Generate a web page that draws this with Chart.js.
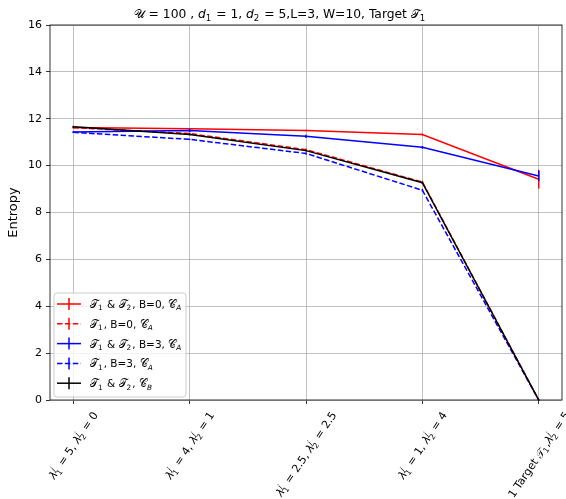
<!DOCTYPE html>
<html>
<head>
<meta charset="utf-8">
<script src="https://cdn.jsdelivr.net/npm/chart.js@4"></script>
<style>
  html, body { margin: 0; padding: 0; background: #fff; }
</style>
</head>
<body>
<canvas id="chart" width="566" height="499"></canvas>
<script>
// values
// little markup for the labels: ~..~ italic, _x subscript, {sub,sup} stacked
const categories = [
    "~λ~{1,j} = 5, ~λ~{2,j} = 0",
    "~λ~{1,j} = 4, ~λ~{2,j} = 1",
    "~λ~{1,j} = 2.5, ~λ~{2,j} = 2.5",
    "~λ~{1,j} = 1, ~λ~{2,j} = 4",
    "1 Target 𝒯_1,~λ~{2,j} = 5"
];
const legendLabels = [
    "𝒯_1 & 𝒯_2, B=0, 𝒞_A",
    "𝒯_1, B=0, 𝒞_A",
    "𝒯_1 & 𝒯_2, B=3, 𝒞_A",
    "𝒯_1, B=3, 𝒞_A",
    "𝒯_1 & 𝒯_2, 𝒞_B"
];
const titleText = "𝒰 = 100 , ~d~_1 = 1, ~d~_2 = 5,L=3, W=10, Target 𝒯_1";
const yTicks = [0, 2, 4, 6, 8, 10, 12, 14, 16];

const entBothB0 = [11.63, 11.57, 11.50, 11.33, 9.42];
const entOneB0 = [11.62, 11.37, 10.68, 9.30, 0];
const entBothB3 = [11.43, 11.50, 11.25, 10.78, 9.56];
const entOneB3 = [11.42, 11.12, 10.52, 8.95, 0];
const entBothCB = [11.66, 11.33, 10.64, 9.27, 0];

const errBothB0 = [0.03, 0.03, 0.03, 0.04, 0.40];
const errOneB0 = [0.03, 0.03, 0.05, 0.05, 0.02];
const errBothB3 = [0.03, 0.07, 0.07, 0.06, 0.22];
const errOneB3 = [0.03, 0.03, 0.04, 0.05, 0.02];
const errBothCB = [0.04, 0.04, 0.04, 0.05, 0.02];

const FONT = '"DejaVu Sans"';

// rich text helpers
function parseRich(str) {
    const chars = Array.from(str);
    const runs = [];
    let it = false;
    let buf = "";
    const flush = () => {
        if (buf) { runs.push({ kind: "n", t: buf, it }); buf = ""; }
    };
    for (let i = 0; i < chars.length; i++) {
        const c = chars[i];
        if (c === "~") { flush(); it = !it; }
        else if (c === "_") { flush(); runs.push({ kind: "sub", t: chars[++i] }); }
        else if (c === "{") {
            flush();
            const j = chars.indexOf("}", i);
            const [sub, sup] = chars.slice(i + 1, j).join("").split(",");
            runs.push({ kind: "ss", t: sub, sup });
            i = j;
        } else buf += c;
    }
    flush();
    return runs;
}

const isLetter = (s) => /[a-zA-Z]/.test(s);
const font = (size, it) => `${it ? "italic " : ""}${size}px ${FONT}`;

function runWidth(ctx, r, size) {
    if (r.kind === "n") {
        ctx.font = font(size, r.it);
        return ctx.measureText(r.t).width;
    }
    ctx.font = font(size * 0.7, isLetter(r.t));
    let w = ctx.measureText(r.t).width;
    if (r.kind === "ss") {
        ctx.font = font(size * 0.7, isLetter(r.sup));
        w = Math.max(w, ctx.measureText(r.sup).width);
    }
    return w + 1;
}

function richWidth(ctx, str, size) {
    return parseRich(str).reduce((a, r) => a + runWidth(ctx, r, size), 0);
}

function drawRich(ctx, str, x, y, size, align) {
    const runs = parseRich(str);
    const total = runs.reduce((a, r) => a + runWidth(ctx, r, size), 0);
    let cx = align === "center" ? x - total / 2 : x;
    ctx.textAlign = "left";
    ctx.textBaseline = "alphabetic";
    runs.forEach((r) => {
        const w = runWidth(ctx, r, size);
        if (r.kind === "n") {
            ctx.font = font(size, r.it);
            ctx.fillText(r.t, cx, y);
        } else {
            ctx.font = font(size * 0.7, isLetter(r.t));
            ctx.fillText(r.t, cx, y + size * 0.22);
            if (r.kind === "ss") {
                ctx.font = font(size * 0.7, isLetter(r.sup));
                ctx.fillText(r.sup, cx, y - size * 0.4);
            }
        }
        cx += w;
    });
}

const series = [
    { data: entBothB0, err: errBothB0, color: "#ff0000", dash: [] },
    { data: entOneB0, err: errOneB0, color: "#ff0000", dash: [5.5, 2.4] },
    { data: entBothB3, err: errBothB3, color: "#0000ff", dash: [] },
    { data: entOneB3, err: errOneB3, color: "#0000ff", dash: [5.5, 2.4] },
    { data: entBothCB, err: errBothCB, color: "#000000", dash: [] }
];

const extras = {
    id: "extras",
    afterDatasetDraw(chart, args) {
        const ds = chart.data.datasets[args.index];
        const xs = chart.scales.x;
        const ys = chart.scales.y;
        const ctx = chart.ctx;
        ctx.save();
        ctx.strokeStyle = ds.borderColor;
        ctx.lineWidth = 1.5;
        ctx.setLineDash([]);
        ds.errors.forEach((e, i) => {
            const px = xs.getPixelForValue(i);
            const v = ds.data[i].y;
            ctx.beginPath();
            ctx.moveTo(px, ys.getPixelForValue(v - e));
            ctx.lineTo(px, ys.getPixelForValue(v + e));
            ctx.stroke();
        });
        ctx.restore();
    },
    afterDraw(chart) {
        const ctx = chart.ctx;
        const a = chart.chartArea;
        const xs = chart.scales.x;
        ctx.save();

        // axes frame
        ctx.strokeStyle = "#000";
        ctx.lineWidth = 0.8;
        ctx.strokeRect(a.left, a.top, a.right - a.left, a.bottom - a.top);

        ctx.fillStyle = "#000";
        // title
        drawRich(ctx, titleText, 280, 18, 12.3, "center");

        // rotated x tick labels, centred under each tick like matplotlib
        const size = 11;
        const th = 56 * Math.PI / 180;
        categories.forEach((lab, i) => {
            const px = xs.getPixelForValue(i);
            const w = richWidth(ctx, lab, size);
            const bh = w * Math.sin(th) + size * 1.2 * Math.cos(th);
            ctx.save();
            ctx.translate(px, a.bottom + 9 + bh / 2);
            ctx.rotate(-th);
            drawRich(ctx, lab, 0, size * 0.35, size, "center");
            ctx.restore();
        });

        // legend box in the lower left
        const lx = a.left + 4, ly = 293, lw = 132, lh = 104;
        ctx.beginPath();
        ctx.roundRect(lx, ly, lw, lh, 3);
        ctx.fillStyle = "rgba(255,255,255,0.8)";
        ctx.fill();
        ctx.strokeStyle = "#cccccc";
        ctx.lineWidth = 1;
        ctx.stroke();
        series.forEach((s, k) => {
            const yy = ly + 11 + k * 19.8;
            ctx.strokeStyle = s.color;
            ctx.lineWidth = 1.5;
            ctx.setLineDash(s.dash);
            ctx.beginPath();
            ctx.moveTo(lx + 3, yy);
            ctx.lineTo(lx + 27, yy);
            ctx.stroke();
            ctx.setLineDash([]);
            ctx.beginPath();
            ctx.moveTo(lx + 15, yy - 6);
            ctx.lineTo(lx + 15, yy + 6);
            ctx.stroke();
            ctx.fillStyle = "#000";
            drawRich(ctx, legendLabels[k], lx + 36, yy + 4, 10.5, "left");
        });
        ctx.restore();
    }
};

new Chart(document.getElementById("chart"), {
    type: "line",
    data: {
        datasets: series.map((s, k) => ({
            label: legendLabels[k],
            data: s.data.map((v, i) => ({ x: i, y: v })),
            errors: s.err,
            borderColor: s.color,
            borderWidth: 1.5,
            borderDash: s.dash,
            pointRadius: 0,
            tension: 0,
            fill: false,
            order: series.length - k
        }))
    },
    options: {
        responsive: false,
        devicePixelRatio: 1,
        animation: false,
        layout: { padding: { top: 25, right: 4, left: 0, bottom: 0 } },
        plugins: {
            legend: { display: false },
            title: { display: false },
            tooltip: { enabled: false }
        },
        scales: {
            x: {
                type: "linear",
                min: -0.2,
                max: 4.2,
                afterBuildTicks: (s) => { s.ticks = categories.map((c, i) => ({ value: i })); },
                afterFit: (s) => { s.height = 99; },
                ticks: { callback: () => "" },
                grid: { color: "#b0b0b0", lineWidth: 0.8, tickLength: 4, tickColor: "#000" },
                border: { display: false }
            },
            y: {
                min: 0,
                max: 16,
                afterBuildTicks: (s) => { s.ticks = yTicks.map((v) => ({ value: v })); },
                afterFit: (s) => { s.width = 50; },
                ticks: { color: "#000", font: { family: FONT, size: 11 }, padding: 4 },
                grid: { color: "#b0b0b0", lineWidth: 0.8, tickLength: 4, tickColor: "#000" },
                border: { display: false },
                title: {
                    display: true,
                    text: "Entropy",
                    color: "#000",
                    font: { family: FONT, size: 13 },
                    padding: { top: 6, bottom: 0 }
                }
            }
        }
    },
    plugins: [extras]
});
</script>
</body>
</html>
